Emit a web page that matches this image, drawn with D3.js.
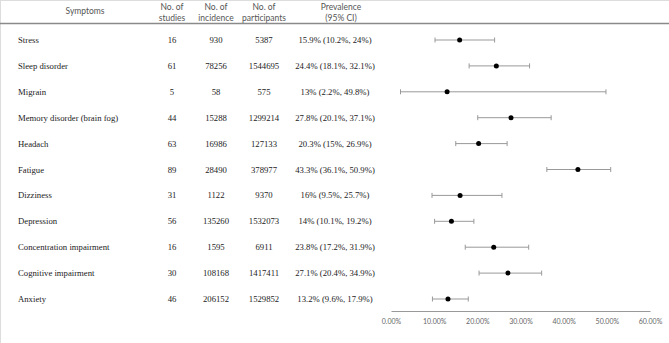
<!DOCTYPE html>
<html>
<head>
<meta charset="utf-8">
<script src="https://d3js.org/d3.v7.min.js"></script>
<style>
  body { margin: 0; background: #fff; }
</style>
</head>
<body>
<script>
const symptoms = ["Stress", "Sleep disorder", "Migrain", "Memory disorder (brain fog)", "Headach", "Fatigue",
  "Dizziness", "Depression", "Concentration impairment", "Cognitive impairment", "Anxiety"];
const studies = [16, 61, 5, 44, 63, 89, 31, 56, 16, 30, 46];
const incidence = [930, 78256, 58, 15288, 16986, 28490, 1122, 135260, 1595, 108168, 206152];
const participants = [5387, 1544695, 575, 1299214, 127133, 378977, 9370, 1532073, 6911, 1417411, 1529852];
const prevalence = [15.9, 24.4, 13, 27.8, 20.3, 43.3, 16, 14, 23.8, 27.1, 13.2];
const ciLow = [10.2, 18.1, 2.2, 20.1, 15, 36.1, 9.5, 10.1, 17.2, 20.4, 9.6];
const ciHigh = [24, 32.1, 49.8, 37.1, 26.9, 50.9, 25.7, 19.2, 31.9, 34.9, 17.9];
const xTicks = [0, 10, 20, 30, 40, 50, 60];

const W = 669, H = 343;
const svg = d3.select("body").append("svg").attr("width", W).attr("height", H);

const rows = symptoms.map((s, i) => ({
  name: s, studies: studies[i], incidence: incidence[i], participants: participants[i],
  p: prevalence[i], lo: ciLow[i], hi: ciHigh[i]
}));

const y = d3.scalePoint().domain(symptoms).range([40, 299]);
const x = d3.scaleLinear().domain([0, 60]).range([391, 650]);

// frame lines
svg.append("line").attr("x1", 0).attr("x2", W).attr("y1", 0.5).attr("y2", 0.5).attr("stroke", "#ddd");
svg.append("line").attr("x1", 0.5).attr("x2", 0.5).attr("y1", 0).attr("y2", H).attr("stroke", "#ddd");
svg.append("line").attr("x1", 0).attr("x2", W).attr("y1", 23.5).attr("y2", 23.5)
  .attr("stroke", "#8a8a8a").attr("stroke-width", 1.5);

// header
const headers = [
  { x: 85, lines: ["Symptoms"], single: true },
  { x: 172, lines: ["No. of", "studies"] },
  { x: 216, lines: ["No. of", "incidence"] },
  { x: 264, lines: ["No. of", "participants"] },
  { x: 341, lines: ["Prevalence", "(95% CI)"] }
];
headers.forEach(h => {
  h.lines.forEach((t, k) => {
    svg.append("text")
      .attr("x", h.x)
      .attr("y", h.single ? 14 : 10 + k * 11)
      .attr("text-anchor", "middle")
      .attr("font-family", "Lato, 'Open Sans', sans-serif")
      .attr("font-size", 8.5)
      .attr("fill", "#555")
      .text(t);
  });
});

// table body
const body = svg.append("g")
  .attr("font-family", "'Liberation Serif', 'Times New Roman', serif")
  .attr("font-size", 8.7)
  .attr("fill", "#222");

const cols = [
  { x: 18, anchor: "start", f: d => d.name },
  { x: 172, anchor: "middle", f: d => d.studies },
  { x: 216, anchor: "middle", f: d => d.incidence },
  { x: 264, anchor: "middle", f: d => d.participants },
  { x: 335, anchor: "middle", f: d => `${d.p}% (${d.lo}%, ${d.hi}%)` }
];
cols.forEach(c => {
  body.selectAll(null).data(rows).enter().append("text")
    .attr("x", c.x)
    .attr("y", d => y(d.name) + 3)
    .attr("text-anchor", c.anchor)
    .text(c.f);
});

// forest plot
const plot = svg.append("g");
plot.selectAll(".ci").data(rows).enter().append("line")
  .attr("x1", d => x(d.lo)).attr("x2", d => x(d.hi))
  .attr("y1", d => y(d.name)).attr("y2", d => y(d.name))
  .attr("stroke", "#999").attr("stroke-width", 1);
["lo", "hi"].forEach(k => {
  plot.selectAll(null).data(rows).enter().append("line")
    .attr("x1", d => x(d[k])).attr("x2", d => x(d[k]))
    .attr("y1", d => y(d.name) - 2.5).attr("y2", d => y(d.name) + 2.5)
    .attr("stroke", "#999").attr("stroke-width", 1);
});
plot.selectAll("circle").data(rows).enter().append("circle")
  .attr("cx", d => x(d.p)).attr("cy", d => y(d.name))
  .attr("r", 2.5).attr("fill", "#000");

// x axis
const xAxis = d3.axisBottom(x).tickValues(xTicks).tickSize(0).tickPadding(8)
  .tickFormat(d => d.toFixed(2) + "%");
const ax = svg.append("g").attr("transform", "translate(0,311)").call(xAxis);
ax.select(".domain").attr("stroke", "#999").attr("stroke-width", 1);
ax.selectAll("text")
  .attr("font-family", "Lato, 'Open Sans', sans-serif")
  .attr("font-size", 7)
  .attr("fill", "#666");
</script>
</body>
</html>
